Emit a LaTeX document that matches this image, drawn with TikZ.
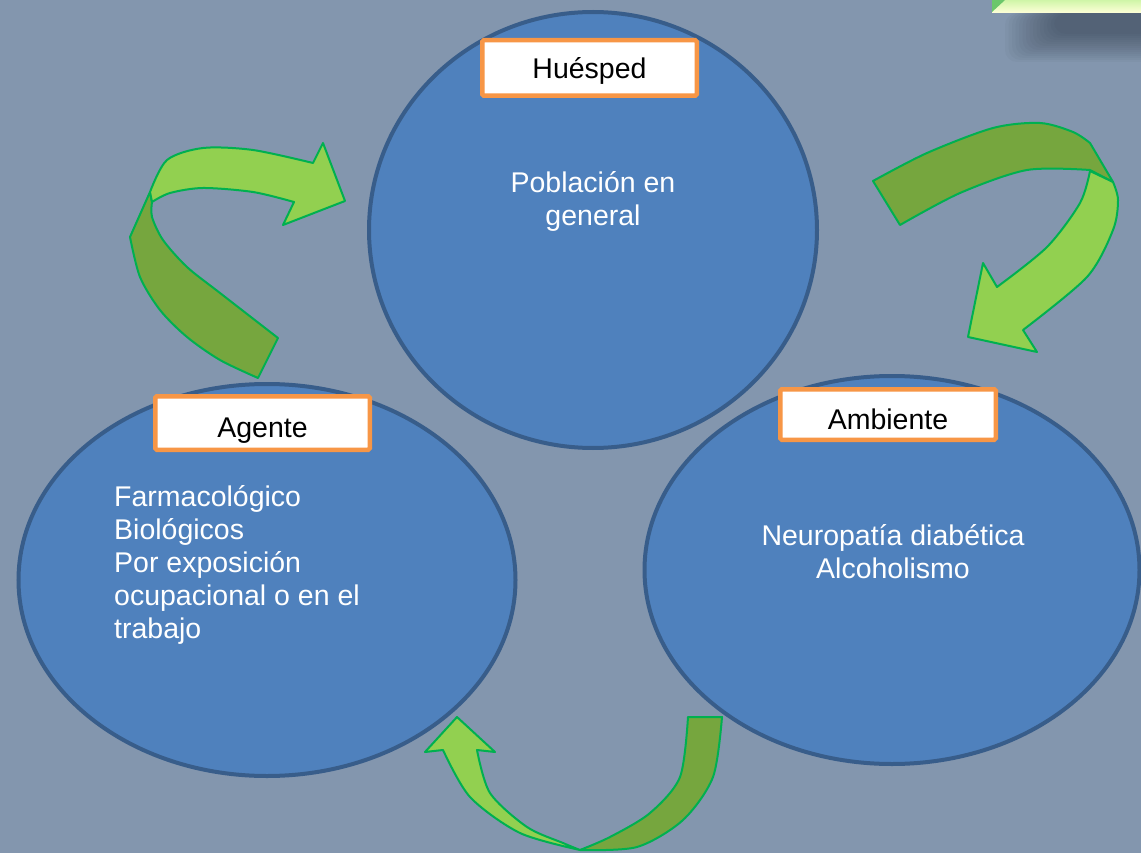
\documentclass[tikz,border=0pt]{standalone}
\usepackage{fontspec}
\setmainfont{Liberation Sans}
\usetikzlibrary{shapes.geometric}
\definecolor{bgblue}{RGB}{131,150,174}
\definecolor{discfill}{RGB}{79,129,189}
\definecolor{discline}{RGB}{56,93,138}
\definecolor{tagline}{RGB}{247,150,70}
\definecolor{arrowlight}{RGB}{146,208,80}
\definecolor{arrowdark}{RGB}{118,166,62}
\definecolor{arrowline}{RGB}{0,176,80}
\definecolor{notegreen}{RGB}{200,244,160}
\definecolor{shadowgray}{RGB}{30,38,52}
\tikzset{
  disc/.style={draw=discline, fill=discfill, line width=4pt, ellipse, inner sep=0pt},
  tag/.style={draw=tagline, fill=white, line width=4.5pt, rounded corners=1.5pt,
    inner sep=0pt, text depth=0pt, font=\fontsize{28.5}{33}\selectfont},
  disctext/.style={text=white, inner sep=0pt, font=\fontsize{28.5}{33}\selectfont},
  ribbonlight/.style={fill=arrowlight, draw=arrowline, line width=2pt, line join=round},
  ribbondark/.style={fill=arrowdark, draw=arrowline, line width=2pt, line join=round}
}
\begin{document}
\begin{tikzpicture}[x=1pt, y=-1pt]
  \fill [bgblue] (0, 0) rectangle (1141, 853);
  \useasboundingbox (0, 0) rectangle (1141, 853);
  % note in the corner with its shadow
  \foreach \i in {0,...,14}
    \fill [shadowgray, opacity=0.035, rounded corners=12pt]
      (1005+\i*3.5, 13) rectangle (1170, 62-\i*2);
  \shade [top color=notegreen, bottom color=yellow!15] (992, -2) rectangle (1141, 13);
  \fill [green!45!gray!80] (992, 0) -- (1005, 0) -- (992, 12) -- cycle;
  % discs
  \node [disc, minimum width=448pt, minimum height=436pt] (huesped) at (593, 230) {};
  \node [disc, minimum width=497pt, minimum height=392pt] (agente) at (267, 580) {};
  \node [disc, minimum width=495pt, minimum height=388pt] (ambiente) at (892, 570) {};
  % tags
  \node [tag, minimum width=214.5pt, minimum height=55.5pt, text height=22pt] (huespedtag) at (589.5, 68) {Huésped};
  \node [tag, minimum width=214.5pt, minimum height=53.5pt, text height=28pt] (agentetag) at (262.5, 423) {Agente};
  \node [tag, minimum width=215.5pt, minimum height=50.5pt, text height=29pt] (ambientetag) at (888, 414.5) {Ambiente};
  % texts (base = last line)
  \node [disctext, align=center, anchor=base] (huespedtext) at (593, 226) {Población en\\general};
  \node [disctext, align=left, anchor=base west] (agentetext) at (114, 638)
    {Farmacológico\\Biológicos\\Por exposición\\ocupacional o en el\\trabajo};
  \node [disctext, align=center, anchor=base] (ambientetext) at (893, 578) {Neuropatía diabética\\Alcoholismo};
  % ribbon from Agente to Huesped
  \filldraw [ribbondark] (258, 378) -- plot [smooth] coordinates {(258, 378) (220, 360) (187, 337) (160, 310) (140, 277) (130, 237)}
    -- (150, 192) -- (152, 202) -- plot [smooth] coordinates {(152, 202) (152, 217) (163, 240) (187, 267) (220, 293) (278, 338)} -- cycle;
  \filldraw [ribbonlight] (150, 192) -- plot [smooth] coordinates {(150, 192) (167, 160) (203, 148) (253, 150) (313, 163)}
    -- (323, 143) -- (345, 201) -- (283, 225) -- (294, 202)
    -- plot [smooth] coordinates {(294, 202) (253, 192) (203, 188) (170, 193) (152, 202)} -- cycle;
  % ribbon from Huesped to Ambiente
  \filldraw [ribbondark] (873, 181) -- plot [smooth] coordinates {(873, 181) (927, 153) (993, 128) (1040, 123) (1073, 132) (1090, 143)}
    -- (1113, 182) -- (1090, 170) -- plot [smooth] coordinates {(1090, 170) (1027, 170) (960, 193) (900, 225)} -- cycle;
  \filldraw [ribbonlight] (1090, 171) -- (1113, 182) -- plot [smooth] coordinates {(1113, 182) (1118, 200) (1113, 230) (1087, 277) (1023, 330)}
    -- (1037, 352) -- (968, 337) -- (983, 263) -- (997, 287)
    -- plot [smooth] coordinates {(997, 287) (1047, 247) (1080, 203) (1090, 171)} -- cycle;
  % ribbon from Ambiente to Agente
  \filldraw [ribbondark] (688, 717) -- (722, 717) -- plot [smooth] coordinates {(722, 717) (713, 777) (683, 820) (637, 847) (580, 850)}
    -- plot [smooth] coordinates {(580, 850) (610, 837) (650, 813) (680, 777) (688, 717)} -- cycle;
  \filldraw [ribbonlight] (580, 850) -- plot [smooth] coordinates {(580, 850) (520, 833) (470, 797) (443, 750)}
    -- (425, 752) -- (457, 717) -- (495, 752) -- (477, 750)
    -- plot [smooth] coordinates {(477, 750) (490, 793) (527, 827) (563, 843) (580, 850)} -- cycle;
\end{tikzpicture}
\end{document}
